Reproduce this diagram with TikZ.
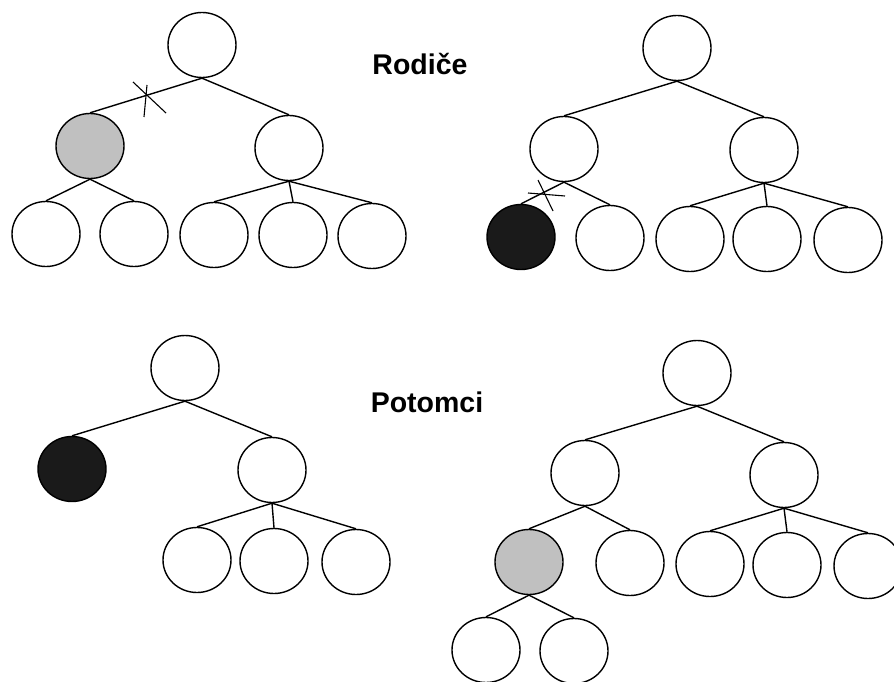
\documentclass[tikz,border=0pt]{standalone}
\usepackage{fontspec}
\setmainfont{Liberation Sans}
\usetikzlibrary{shapes.geometric}
\definecolor{graynode}{RGB}{192,192,192}
\definecolor{darknode}{RGB}{26,26,26}
\tikzset{
  tnode/.style={ellipse, draw=black, line width=1.4pt, fill=white,
    minimum width=68pt, minimum height=65pt, inner sep=0pt},
  grayn/.style={tnode, fill=graynode},
  darkn/.style={tnode, fill=darknode},
  edge/.style={line width=1.4pt},
  crossmark/.style={line width=1.1pt},
  caption/.style={font=\bfseries\fontsize{28.5pt}{31pt}\selectfont, inner sep=0pt}
}
\begin{document}
\begin{tikzpicture}[x=1pt, y=-1pt]
\useasboundingbox (0,0) rectangle (894,682);
\clip (0,0) rectangle (894,682);
\fill[white] (0,0) rectangle (894,682);

% ---- Rodice: first parent tree ----
\node[tnode] (a0) at (202,45) {};
\node[grayn] (a1) at (90,146) {};
\node[tnode] (a2) at (289,148) {};
\node[tnode] (a3) at (46,234) {};
\node[tnode] (a4) at (134,234) {};
\node[tnode] (a5) at (214,235) {};
\node[tnode] (a6) at (293,235) {};
\node[tnode] (a7) at (372,236) {};
\draw[edge] (a0.south) -- (a1.north);
\draw[edge] (a0.south) -- (a2.north);
\draw[edge] (a1.south) -- (a3.north);
\draw[edge] (a1.south) -- (a4.north);
\draw[edge] (a2.south) -- (a5.north);
\draw[edge] (a2.south) -- (a6.north);
\draw[edge] (a2.south) -- (a7.north);
\coordinate (cutA) at (147,95);
\draw[crossmark] (cutA) ++(-14,-13) -- ++(33,31);
\draw[crossmark] (cutA) ++(0,-10) -- ++(-3,32);

% ---- Rodice: second parent tree ----
\node[tnode] (b0) at (677,48) {};
\node[tnode] (b1) at (564,149) {};
\node[tnode] (b2) at (764,150) {};
\node[darkn] (b3) at (521,237) {};
\node[tnode] (b4) at (610,238) {};
\node[tnode] (b5) at (690,239) {};
\node[tnode] (b6) at (767,239) {};
\node[tnode] (b7) at (848,240) {};
\draw[edge] (b0.south) -- (b1.north);
\draw[edge] (b0.south) -- (b2.north);
\draw[edge] (b1.south) -- (b3.north);
\draw[edge] (b1.south) -- (b4.north);
\draw[edge] (b2.south) -- (b5.north);
\draw[edge] (b2.south) -- (b6.north);
\draw[edge] (b2.south) -- (b7.north);
\coordinate (cutB) at (543,194);
\draw[crossmark] (cutB) ++(-15,-1) -- ++(37,3);
\draw[crossmark] (cutB) ++(-5,-14) -- ++(15,31);

\node[caption] (rod) at (420,64) {Rodiče};

% ---- Potomci: first offspring tree ----
\node[tnode] (c0) at (185,368) {};
\node[darkn] (c1) at (72,469) {};
\node[tnode] (c2) at (272,470) {};
\node[tnode] (c3) at (197,560) {};
\node[tnode] (c4) at (274,561) {};
\node[tnode] (c5) at (356,562) {};
\draw[edge] (c0.south) -- (c1.north);
\draw[edge] (c0.south) -- (c2.north);
\draw[edge] (c2.south) -- (c3.north);
\draw[edge] (c2.south) -- (c4.north);
\draw[edge] (c2.south) -- (c5.north);

\node[caption] (pot) at (427,402) {Potomci};

% ---- Potomci: second offspring tree ----
\node[tnode] (d0) at (697,373) {};
\node[tnode] (d1) at (585,473) {};
\node[tnode] (d2) at (784,475) {};
\node[grayn] (d3) at (529,562) {};
\node[tnode] (d4) at (630,563) {};
\node[tnode] (d5) at (710,564) {};
\node[tnode] (d6) at (787,565) {};
\node[tnode] (d7) at (868,566) {};
\node[tnode] (d8) at (486,650) {};
\node[tnode] (d9) at (574,651) {};
\draw[edge] (d0.south) -- (d1.north);
\draw[edge] (d0.south) -- (d2.north);
\draw[edge] (d1.south) -- (d3.north);
\draw[edge] (d1.south) -- (d4.north);
\draw[edge] (d2.south) -- (d5.north);
\draw[edge] (d2.south) -- (d6.north);
\draw[edge] (d2.south) -- (d7.north);
\draw[edge] (d3.south) -- (d8.north);
\draw[edge] (d3.south) -- (d9.north);
\end{tikzpicture}
\end{document}
